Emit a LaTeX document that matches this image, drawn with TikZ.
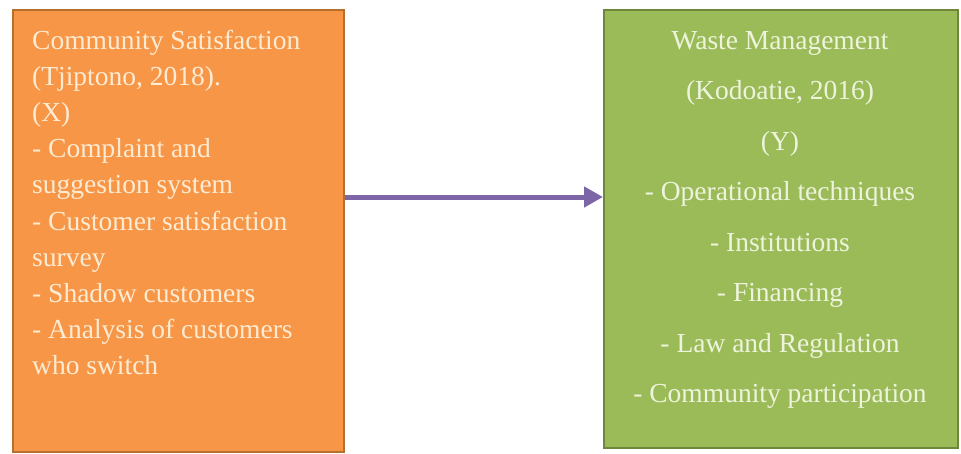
\documentclass[tikz,border=0pt]{standalone}
\usepackage{fontspec}
\setmainfont{Liberation Serif}
\usepackage{tikz}
\usetikzlibrary{arrows.meta}
\definecolor{orangeFill}{HTML}{F79646}
\definecolor{orangeEdge}{HTML}{B5702E}
\definecolor{orangeText}{HTML}{FDEBD3}
\definecolor{greenFill}{HTML}{9BBB59}
\definecolor{greenEdge}{HTML}{6F873D}
\definecolor{greenText}{HTML}{EEF4DC}
\definecolor{arrowPurple}{HTML}{7D66A6}

\begin{document}
\begin{tikzpicture}[x=1pt, y=-1pt,
    box/.style={draw, line width=2pt, inner sep=0pt, anchor=north west},
    boxtext/.style={inner sep=0pt, font=\fontsize{27.5}{#1}\selectfont}]
    \useasboundingbox (0,0) rectangle (961,453);
    % the two variable boxes
    \node[box, fill=orangeFill, draw=orangeEdge, minimum width=331pt, minimum height=442pt]
        (satisfaction) at (12,9) {};
    \node[box, fill=greenFill, draw=greenEdge, minimum width=354pt, minimum height=438pt]
        (management) at (603,9) {};
    \node[boxtext=36.1, orangeText, anchor=north west, align=left] (satisfactionText) at (32,30)
        {Community Satisfaction\\(Tjiptono, 2018).\\(X)\\- Complaint and\\suggestion system\\
         - Customer satisfaction\\survey\\- Shadow customers\\- Analysis of customers\\who switch};
    \node[boxtext=50.5, greenText, anchor=north, align=center] (managementText) at (780,31)
        {Waste Management\\(Kodoatie, 2016)\\(Y)\\- Operational techniques\\- Institutions\\
         - Financing\\- Law and Regulation\\- Community participation};
    % X -> Y
    \draw[arrowPurple, line width=5pt, -{Triangle[length=19pt, width=20pt]}]
        ([yshift=34pt]satisfaction.east) -- ([yshift=34pt]satisfaction.east -| management.west);
\end{tikzpicture}
\end{document}
